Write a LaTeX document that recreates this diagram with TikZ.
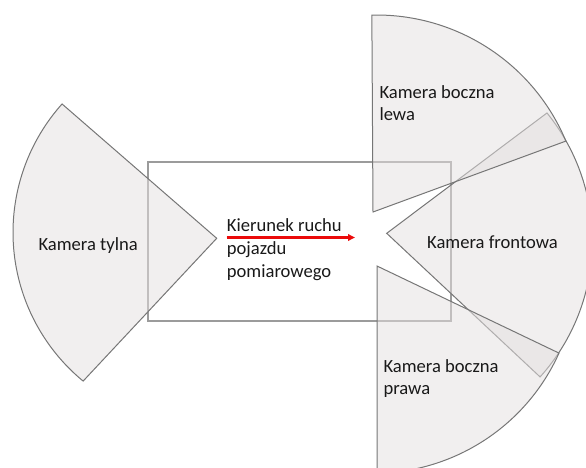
\documentclass[tikz,border=0pt]{standalone}
\usepackage{fontspec}
\setmainfont{Carlito}
\usetikzlibrary{arrows.meta}
\definecolor{secfill}{RGB}{228,224,224}
\definecolor{secline}{RGB}{118,118,118}
\definecolor{rectline}{RGB}{155,155,155}
\definecolor{txt}{RGB}{25,25,25}
\definecolor{arrowred}{RGB}{235,10,10}
\begin{document}
\begin{tikzpicture}[x=1pt,y=1pt,
  sector/.style={draw=secline, line width=1pt, fill=secfill, fill opacity=0.52},
  vehicle/.style={draw=rectline, line width=1.1pt},
  lbl/.style={inner sep=0pt, anchor=base west, font=\fontsize{18.6}{22.7}\selectfont, align=left, text=txt},
  motion/.style={-{Triangle[length=7pt,width=6.5pt]}, draw=arrowred, fill=arrowred, line width=2.2pt}]
\useasboundingbox (0,0) rectangle (586,467);
\clip (0,0) rectangle (586,467);
% vehicle outline
\draw[vehicle] (148,305) rectangle (451,146);
% rear camera
\draw[sector] (216.7,228.7) -- ([shift={(205.7,234.6)}]138.2:192.7)
  arc[start angle=138.2, end angle=230.5, radius=192.7] -- cycle;
% front camera
\draw[sector] (386.7,233.7) -- ([shift={(389,226.1)}]39:203.3)
  arc[start angle=39, end angle=-42, radius=203.3] -- cycle;
% left side camera
\draw[sector] (373,255) -- ([shift={(376.5,246.7)}]91.3:205.3)
  arc[start angle=91.3, end angle=22.7, radius=205.3] -- cycle;
% right side camera
\draw[sector] (377,201) -- ([shift={(373.2,197.4)}]-24.2:203.7)
  arc[start angle=-24.2, end angle=-88.9, radius=203.7] -- cycle;
% labels (base anchor = last line of a multi-line node)
\node[lbl] (rear) at (38.3,216.3) {Kamera tylna};
\node[lbl] (front) at (427,218.7) {Kamera frontowa};
\node[lbl, font=\fontsize{18.6}{21.7}\selectfont] (left) at (379.3,347) {Kamera boczna\\lewa};
\node[lbl, font=\fontsize{18.6}{21.7}\selectfont] (right) at (383.3,73) {Kamera boczna\\prawa};
\node[lbl] (dir) at (226.7,190) {Kierunek ruchu\\pojazdu\\pomiarowego};
% motion arrow
\coordinate (arrowstart) at (226.7,229.5);
\coordinate (arrowend) at (355,229.5);
\draw[motion] (arrowstart) -- (arrowend);
\end{tikzpicture}
\end{document}
